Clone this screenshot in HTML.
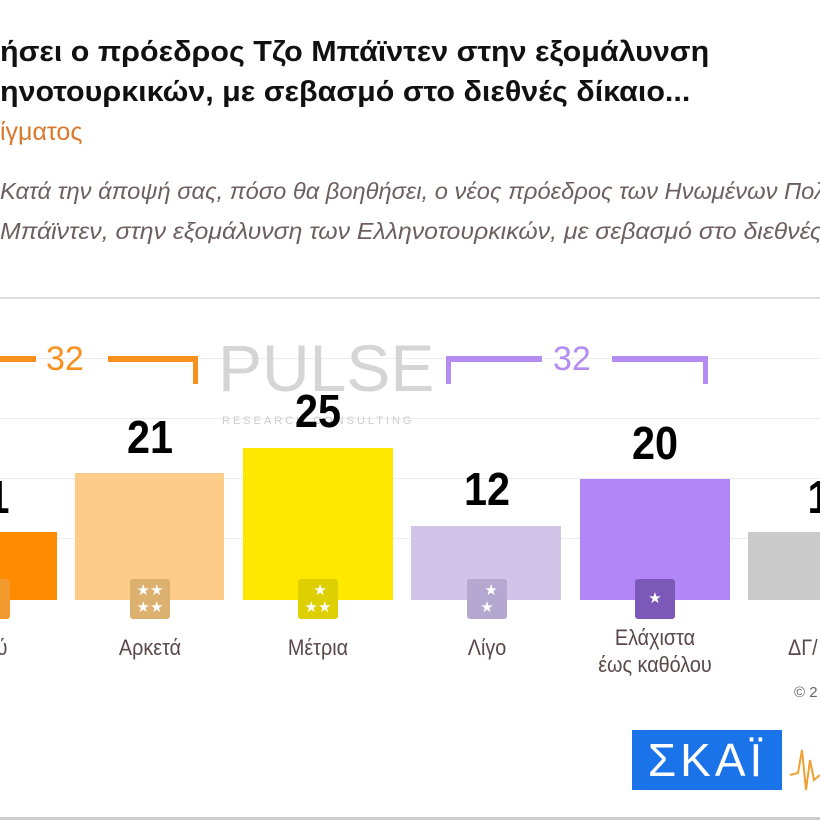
<!DOCTYPE html>
<html><head><meta charset="utf-8"><style>
body{margin:0;width:820px;height:820px;overflow:hidden;background:#fff;font-family:"Liberation Sans","DejaVu Sans",sans-serif;position:relative}
.a{position:absolute;white-space:nowrap}
.t{font-weight:bold;font-size:29px;color:#111;left:0;transform:scaleX(1.05);transform-origin:left}
.q{font-style:italic;font-size:23px;color:#6e5f5f;left:0;transform:scaleX(1.03);transform-origin:left}
.g{position:absolute;left:0;width:820px;height:1px;background:#ececec}
.bar{position:absolute;bottom:220px}
.v{position:absolute;font-weight:bold;font-size:46px;color:#000;transform:scaleX(.9);text-align:center;width:100px}
.ic{position:absolute;top:579px;width:40px;height:40px;border-radius:3px;color:#fff;font-size:15px;line-height:17px;text-align:center;box-sizing:border-box;padding-top:3px}
.l{position:absolute;font-size:22px;color:#5a4848;text-align:center;width:160px;transform:scaleX(.9);line-height:27px}
</style></head><body>
<div class="a t" style="top:36px">ήσει ο πρόεδρος Τζο Μπάϊντεν στην εξομάλυνση</div>
<div class="a t" style="top:76px">ηνοτουρκικών, με σεβασμό στο διεθνές δίκαιο...</div>
<div class="a" style="top:118px;left:0;font-size:25px;color:#d9782a">ίγματος</div>
<div class="a q" style="top:178px">Κατά την άποψή σας, πόσο θα βοηθήσει, ο νέος πρόεδρος των Ηνωμένων Πολ</div>
<div class="a q" style="top:218px;transform:scaleX(1.08)">Μπάϊντεν, στην εξομάλυνση των Ελληνοτουρκικών, με σεβασμό στο διεθνές</div>
<div class="g" style="top:297px;background:#ddd;height:2px"></div>
<div class="g" style="top:358px"></div><div class="g" style="top:418px"></div><div class="g" style="top:478px"></div><div class="g" style="top:538px"></div>
<div class="a" style="left:218px;top:330px;font-size:66px;color:#d5d5d5;letter-spacing:0px;font-weight:300">PULSE</div>
<div class="a" style="left:222px;top:415px;font-size:11px;color:#ccc;letter-spacing:3px">RESEARCH CONSULTING</div>
<div class="a" style="left:0;top:356px;width:36px;height:6px;background:#f7901e"></div>
<div class="a" style="left:46px;top:340px;font-size:34px;color:#f7901e">32</div>
<div class="a" style="left:108px;top:356px;width:90px;height:6px;background:#f7901e"></div>
<div class="a" style="left:193px;top:356px;width:5px;height:28px;background:#f7901e"></div>
<div class="a" style="left:446px;top:356px;width:5px;height:28px;background:#b48cf2"></div>
<div class="a" style="left:446px;top:356px;width:96px;height:6px;background:#b48cf2"></div>
<div class="a" style="left:553px;top:340px;font-size:34px;color:#b48cf2">32</div>
<div class="a" style="left:612px;top:356px;width:95px;height:6px;background:#b48cf2"></div>
<div class="a" style="left:703px;top:356px;width:5px;height:28px;background:#b48cf2"></div>
<div class="bar" style="left:0;width:57px;height:68px;background:#ff8c00"></div>
<div class="bar" style="left:75px;width:149px;height:127px;background:#fdcc88"></div>
<div class="bar" style="left:243px;width:150px;height:152px;background:#ffe800"></div>
<div class="bar" style="left:411px;width:150px;height:74px;background:#d0c5e8"></div>
<div class="bar" style="left:580px;width:150px;height:121px;background:#b286f7"></div>
<div class="bar" style="left:748px;width:72px;height:68px;background:#cacaca"></div>
<div class="v" style="left:-52px;top:470px">1</div>
<div class="v" style="left:100px;top:410px">21</div>
<div class="v" style="left:268px;top:384px">25</div>
<div class="v" style="left:437px;top:462px">12</div>
<div class="v" style="left:605px;top:416px">20</div>
<div class="v" style="left:769px;top:470px">1</div>
<div class="ic" style="left:-30px;background:#f29a2e"></div>
<div class="ic" style="left:130px;background:#dcb06e">★★<br>★★</div>
<div class="ic" style="left:298px;background:#ded000">&nbsp;★<br>★★</div>
<div class="ic" style="left:467px;background:#b5a8d0">&nbsp;&nbsp;★<br>★</div>
<div class="ic" style="left:635px;background:#7c58b8;padding-top:11px">★</div>
<div class="l" style="left:-78px;top:634px">ύ</div>
<div class="l" style="left:70px;top:634px">Αρκετά</div>
<div class="l" style="left:238px;top:634px">Μέτρια</div>
<div class="l" style="left:407px;top:634px">Λίγο</div>
<div class="l" style="left:575px;top:624px">Ελάχιστα<br>έως καθόλου</div>
<div class="l" style="top:634px;text-align:left;left:780px">ΔΓ/</div>
<div class="a" style="left:794px;top:684px;font-size:15px;color:#666">© 2</div>
<div class="a" style="left:632px;top:730px;width:150px;height:60px;background:#1a73e8;color:#fff;font-size:46px;line-height:60px;text-align:center;letter-spacing:4px;font-weight:300">ΣΚΑΪ</div>
<svg class="a" style="left:790px;top:735px" width="30" height="60"><polyline points="0,40 8,38 12,15 16,55 20,25 24,45 30,40" fill="none" stroke="#f0a030" stroke-width="2"/></svg>
<div class="g" style="top:817px;height:3px;background:#ccc"></div>
</body></html>
